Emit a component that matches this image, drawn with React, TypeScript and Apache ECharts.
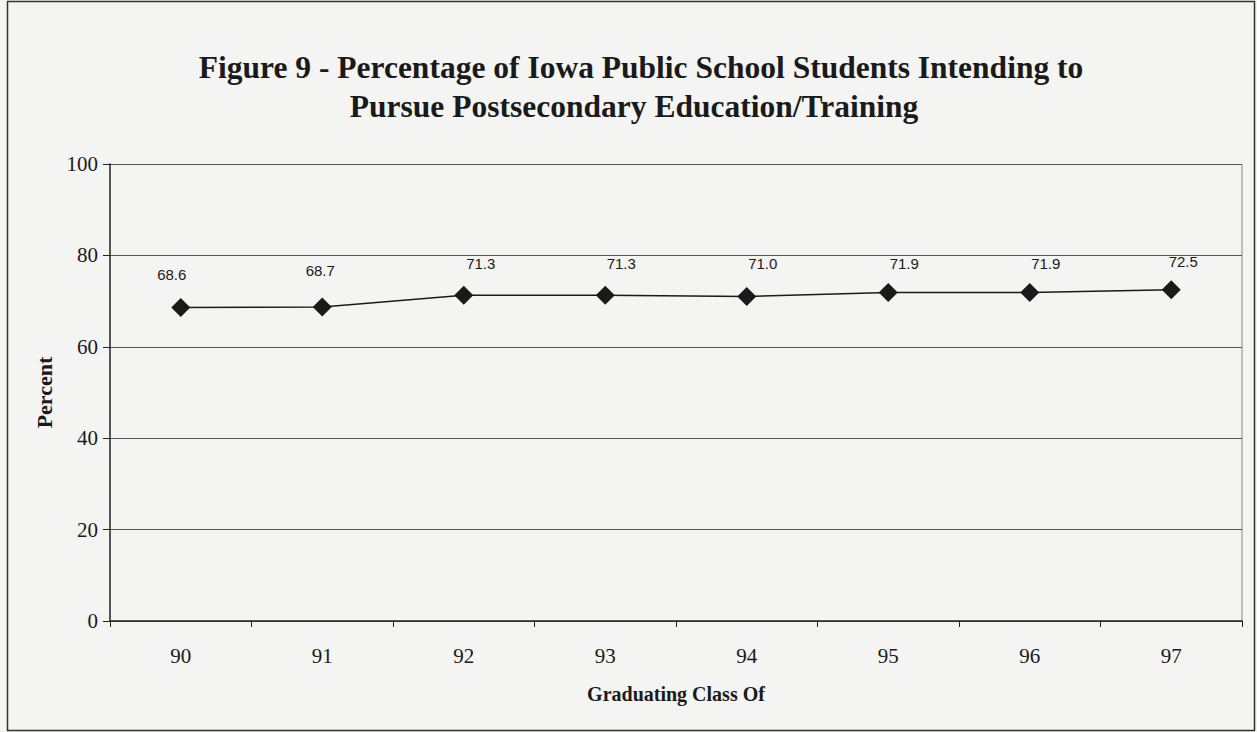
import React, { useEffect, useRef } from "react";
import * as echarts from "echarts";

const categories = ["90", "91", "92", "93", "94", "95", "96", "97"];
const percentValues = [68.6, 68.7, 71.3, 71.3, 71.0, 71.9, 71.9, 72.5];
const titleLines = [
  "Figure 9 - Percentage of Iowa Public School Students Intending to",
  "Pursue Postsecondary Education/Training",
];
const yAxisName = "Percent";
const xAxisName = "Graduating Class Of";

// styling only: manual nudges of the data labels, as placed in the original
const labelNudges: [number, number][] = [
  [-9, 1], [-2, -3], [17, 2], [16, 2], [16, 1], [16, 5], [16, 5], [12, 6],
];

export default function App() {
  const ref = useRef<HTMLDivElement>(null);
  useEffect(() => {
    if (!ref.current) return;
    const chart = echarts.init(ref.current, null, { renderer: "svg" });
    const titleStyle = {
      fontFamily: "Liberation Serif",
      fontWeight: "bold",
      fontSize: 32,
      fill: "#1a1a1a",
      textAlign: "center",
      textVerticalAlign: "middle",
    };
    chart.setOption({
      animation: false,
      backgroundColor: "#f4f4f3",
      graphic: [
        {
          type: "rect",
          shape: { x: 7.5, y: 1.5, width: 1247, height: 729 },
          style: { fill: "none", stroke: "#333", lineWidth: 1.5 },
          silent: true,
        },
        {
          type: "line",
          shape: { x1: 1242, y1: 164, x2: 1242, y2: 621 },
          style: { stroke: "#888", lineWidth: 1 },
          silent: true,
        },
        {
          type: "text",
          x: 641,
          y: 67,
          scaleX: 0.985,
          style: { ...titleStyle, text: titleLines[0] },
          silent: true,
        },
        {
          type: "text",
          x: 634,
          y: 106,
          scaleX: 0.985,
          style: { ...titleStyle, text: titleLines[1] },
          silent: true,
        },
      ],
      grid: { left: 110, right: 15, top: 164, bottom: 111 },
      xAxis: {
        type: "category",
        data: categories,
        boundaryGap: true,
        name: xAxisName,
        nameLocation: "middle",
        nameGap: 63,
        nameTextStyle: {
          fontFamily: "Liberation Serif",
          fontWeight: "bold",
          fontSize: 20,
          color: "#1a1a1a",
        },
        axisLine: { lineStyle: { color: "#222", width: 1.5 } },
        axisTick: { show: true, length: 6, lineStyle: { color: "#222" } },
        axisLabel: {
          fontFamily: "Liberation Serif",
          fontSize: 21,
          color: "#1a1a1a",
          margin: 24,
        },
      },
      yAxis: {
        type: "value",
        min: 0,
        max: 100,
        interval: 20,
        name: yAxisName,
        nameLocation: "middle",
        nameGap: 55,
        nameRotate: 90,
        nameTextStyle: {
          fontFamily: "Liberation Serif",
          fontWeight: "bold",
          fontSize: 22,
          color: "#1a1a1a",
        },
        axisLine: { show: true, lineStyle: { color: "#222", width: 1.5 } },
        axisTick: { show: true, length: 7, lineStyle: { color: "#222" } },
        axisLabel: {
          fontFamily: "Liberation Serif",
          fontSize: 21,
          color: "#1a1a1a",
          margin: 12,
        },
        splitLine: { lineStyle: { color: "#555", width: 1 } },
      },
      series: [
        {
          type: "line",
          data: percentValues.map((v, i) => ({
            value: v,
            label: { offset: labelNudges[i] },
          })),
          symbol: "diamond",
          symbolSize: 19,
          itemStyle: { color: "#1a1a1a" },
          lineStyle: { color: "#1a1a1a", width: 1.5 },
          label: {
            show: true,
            position: "top",
            distance: 17,
            formatter: (p: any) => Number(p.value).toFixed(1),
            fontFamily: "Liberation Sans",
            fontSize: 15,
            color: "#1a1a1a",
          },
        },
      ],
    });
    return () => chart.dispose();
  }, []);
  return (
    <div
      ref={ref}
      style={{ position: "fixed", left: 0, top: 0, width: 1257, height: 732 }}
    />
  );
}
